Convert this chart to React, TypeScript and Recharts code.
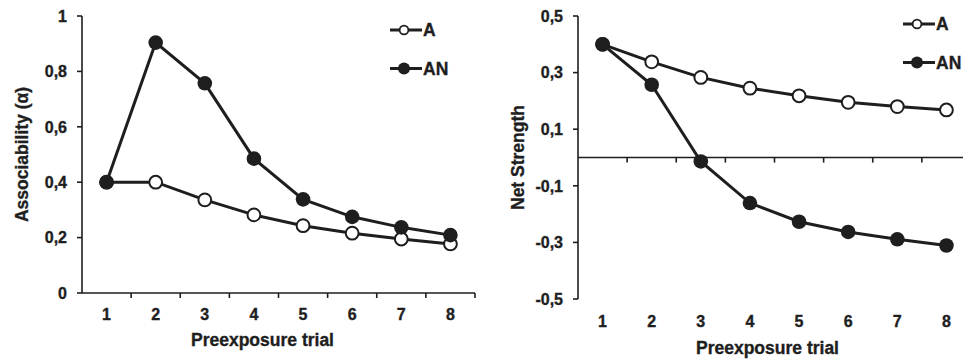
import React from "react";
import { LineChart, Line, XAxis, YAxis, ReferenceLine } from "recharts";

const trials = [1, 2, 3, 4, 5, 6, 7, 8];
const assocA = [0.4, 0.4, 0.336, 0.282, 0.243, 0.216, 0.195, 0.177];
const assocAN = [0.4, 0.904, 0.757, 0.485, 0.338, 0.275, 0.237, 0.209];
const netA = [0.4, 0.338, 0.283, 0.245, 0.218, 0.195, 0.18, 0.168];
const netAN = [0.4, 0.257, -0.014, -0.161, -0.227, -0.263, -0.289, -0.311];
const leftTicks = [0, 0.2, 0.4, 0.6, 0.8, 1];
const rightTicks = [-0.5, -0.3, -0.1, 0.1, 0.3, 0.5];
const seriesNames = ["A", "AN"];
const xTitle = "Preexposure trial";
const leftYTitle = "Associability (α)";
const rightYTitle = "Net Strength";

const INK = "#1e1e1e";
const FONT = "'Liberation Sans', Arial, sans-serif";
const TXT_STROKE = 0.35;

const leftData = trials.map((t, i) => ({ trial: t, A: assocA[i], AN: assocAN[i] }));
const rightData = trials.map((t, i) => ({ trial: t, A: netA[i], AN: netAN[i] }));
const boundaries = trials.map((t) => t + 0.5);

const fmt = (v: number) => String(v).replace(".", ",");

const openDot = (props: any) => {
  const { cx, cy, index } = props;
  return <circle key={`o${index}`} cx={cx} cy={cy} r={6.4} fill="#fff" stroke={INK} strokeWidth={2} />;
};
const filledDot = (props: any) => {
  const { cx, cy, index } = props;
  return <circle key={`f${index}`} cx={cx} cy={cy} r={7.3} fill={INK} stroke="none" />;
};

const TICK_FS = 16;

const XTick = (p: any) => (
  <text x={p.x} y={p.y} dy="0.71em" textAnchor="middle" fill={INK} stroke={INK} strokeWidth={TXT_STROKE}
    fontSize={TICK_FS} fontWeight={700} fontFamily={FONT}>
    {fmt(p.payload.value)}
  </text>
);
const YTick = (p: any) => (
  <text x={p.x} y={p.y} dy="0.36em" textAnchor="end" fill={INK} stroke={INK} strokeWidth={TXT_STROKE}
    fontSize={TICK_FS} fontWeight={700} fontFamily={FONT}>
    {fmt(p.payload.value)}
  </text>
);

function yTitleContent(text: string, dxFromLeft: number) {
  return (p: any) => {
    const vb = p.viewBox;
    const cx = vb.x + dxFromLeft;
    const cy = vb.y + vb.height / 2;
    return (
      <text x={cx} y={cy} transform={`rotate(-90 ${cx} ${cy})`} textAnchor="middle" dominantBaseline="central"
        fill={INK} stroke={INK} strokeWidth={TXT_STROKE} fontSize={17.5} fontWeight={700} fontFamily={FONT}>{text}</text>
    );
  };
}
function xTitleContent(text: string, dx: number, dy: number) {
  return (p: any) => {
    const vb = p.viewBox;
    const cx = vb.x + vb.width / 2 + dx;
    const cy = vb.y + dy;
    return (
      <text x={cx} y={cy} textAnchor="middle" dominantBaseline="central"
        fill={INK} stroke={INK} strokeWidth={TXT_STROKE} fontSize={17.5} fontWeight={700} fontFamily={FONT}>{text}</text>
    );
  };
}

function LegendBox({ left, top }: { left: number; top: number }) {
  return (
    <svg style={{ position: "absolute", left, top }} width={80} height={60}>
      {seriesNames.map((name, i) => {
        const y = 10 + i * 38.5;
        return (
          <g key={name}>
            <line x1={0} x2={32} y1={y} y2={y} stroke={INK} strokeWidth={3} />
            {i === 0 ? (
              <circle cx={14} cy={y} r={4.4} fill="#fff" stroke={INK} strokeWidth={1.8} />
            ) : (
              <circle cx={14} cy={y} r={6} fill={INK} />
            )}
            <text x={33} y={y} dy="0.36em" fill={INK} stroke={INK} strokeWidth={TXT_STROKE}
              fontSize={17.5} fontWeight={700} fontFamily={FONT}>{name}</text>
          </g>
        );
      })}
    </svg>
  );
}

export default function App() {
  return (
    <div style={{ position: "absolute", left: 0, top: 0, width: 963, height: 360, overflow: "hidden", background: "#fff" }}>
      <div style={{ position: "absolute", left: 0, top: 0 }}>
        <LineChart width={480} height={360} data={leftData} margin={{ top: 16, right: 5, bottom: 0, left: 0 }}>
          <XAxis dataKey="trial" type="number" domain={[0.5, 8.5]} ticks={trials} height={67}
            axisLine={{ stroke: INK, strokeWidth: 1.6 }} tickLine={false} tickSize={0} tickMargin={16}
            tick={XTick} interval={0}
            label={{ content: xTitleContent(xTitle, -16, 47) } as any} />
          <YAxis type="number" domain={[0, 1]} ticks={leftTicks} width={82}
            axisLine={{ stroke: INK, strokeWidth: 1.6 }} tickLine={{ stroke: INK, strokeWidth: 1.6 }} tickSize={5} tickMargin={10}
            tick={YTick} interval={0}
            label={{ content: yTitleContent(leftYTitle, 22) } as any} />
          {boundaries.map((b) => (
            <ReferenceLine key={b} segment={[{ x: b, y: 0 }, { x: b, y: -0.018 }]} stroke={INK} strokeWidth={1.6} ifOverflow="visible" />
          ))}
          <Line dataKey="A" stroke={INK} strokeWidth={3} dot={openDot} isAnimationActive={false} />
          <Line dataKey="AN" stroke={INK} strokeWidth={3} dot={filledDot} isAnimationActive={false} />
        </LineChart>
      </div>
      <div style={{ position: "absolute", left: 480, top: 0 }}>
        <LineChart width={500} height={360} data={rightData} margin={{ top: 16, right: 9, bottom: 0, left: 0 }}>
          <XAxis dataKey="trial" type="number" domain={[0.5, 8.5]} ticks={trials} height={61}
            axisLine={false} tickLine={false} tickSize={0} tickMargin={17}
            tick={XTick} interval={0}
            label={{ content: xTitleContent(xTitle, -7, 49) } as any} />
          <YAxis type="number" domain={[-0.5, 0.5]} ticks={rightTicks} width={98}
            axisLine={{ stroke: INK, strokeWidth: 1.6 }} tickLine={{ stroke: INK, strokeWidth: 1.6 }} tickSize={5} tickMargin={10}
            tick={YTick} interval={0}
            label={{ content: yTitleContent(rightYTitle, 38) } as any} />
          <ReferenceLine y={0} stroke={INK} strokeWidth={1.4} />
          {boundaries.map((b) => (
            <ReferenceLine key={b} segment={[{ x: b, y: 0 }, { x: b, y: -0.018 }]} stroke={INK} strokeWidth={1.6} ifOverflow="visible" />
          ))}
          <Line dataKey="A" stroke={INK} strokeWidth={3} dot={openDot} isAnimationActive={false} />
          <Line dataKey="AN" stroke={INK} strokeWidth={3} dot={filledDot} isAnimationActive={false} />
        </LineChart>
      </div>
      <LegendBox left={390} top={20} />
      <LegendBox left={903} top={14} />
    </div>
  );
}
